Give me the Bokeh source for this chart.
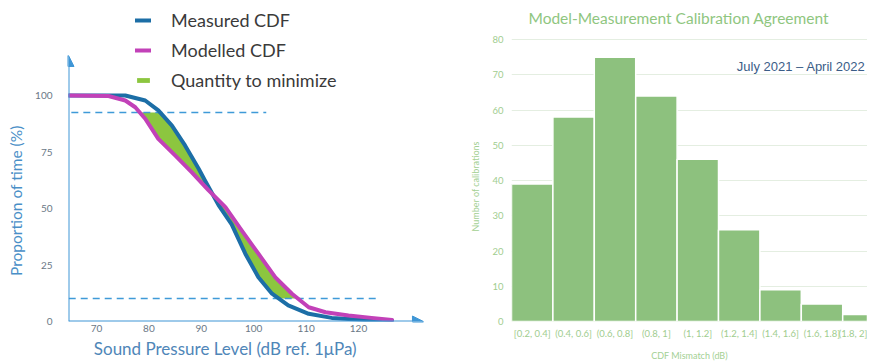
import numpy as np
from bokeh.plotting import figure
from bokeh.models import (Range1d, FixedTicker, Arrow, NormalHead, Label, Legend, LegendItem)
from bokeh.layouts import row
from bokeh.embed import file_html
from bokeh.resources import INLINE

# ---------------- Left panel: CDF diagram ----------------
spl_measured = [64.7, 75.5, 79.3, 81.8, 84.4, 86.9, 89.5, 90.7, 92.0, 93.3, 95.8, 98.4,
                100.9, 103.5, 106.6, 110.5, 114.9, 121.3, 126.4]
cdf_measured = [100, 100, 97.8, 93.4, 86.7, 77.9, 67.6, 62.4, 57.0, 51.5, 43.0, 30.0,
                19.6, 12.3, 7.1, 3.4, 1.6, 0.7, 0.4]
spl_modelled = [64.7, 72.3, 75.5, 77.4, 79.3, 81.8, 85.0, 88.2, 91.4, 94.6, 97.7, 100.9,
                104.1, 107.3, 110.5, 113.7, 118.1, 122.5, 126.4]
cdf_modelled = [100, 99.8, 97.8, 94.8, 89.7, 80.8, 73.5, 66.0, 58.0, 50.6, 40.3, 30.0,
                19.6, 12.3, 6.3, 4.1, 2.7, 1.6, 0.7]
upper_level = 92.5
lower_level = 10.2
upper_line_x = [65.2, 102.4]
lower_line_x = [64.7, 123.4]
spl_ticks = [70, 80, 90, 100, 110, 120]
pct_ticks = [0, 25, 50, 75, 100]
axis_x_end = 132.4
axis_y_end = 117.7

# ---------------- Right panel: histogram ----------------
bins = ["[0.2, 0.4]", "(0.4, 0.6]", "(0.6, 0.8]", "(0.8, 1]", "(1, 1.2]",
        "(1.2, 1.4]", "(1.4, 1.6]", "(1.6, 1.8]", "(1.8, 2]"]
counts = [39, 58, 75, 64, 46, 26, 9, 5, 2]
count_ticks = [0, 10, 20, 30, 40, 50, 60, 70, 80]

BLUE = "#1c6ea6"
MAGENTA = "#c241b8"
GREEN_FILL = "#8cc63f"
AXIS_BLUE = "#3f96d6"
NB = "\u00a0"

FH = 321          # frame height in px
LEFT_PX_PER_PCT = 2.26
RIGHT_PX_PER_COUNT = 3.525
LEFT_PX_PER_DB = 5.24
RIGHT_PX_PER_BIN = 41.4

# Left figure
x0 = 64.66
p = figure(frame_width=370, frame_height=FH, output_backend="svg", toolbar_location=None,
           title=None,
           x_range=Range1d(x0, x0 + 370 / LEFT_PX_PER_DB),
           y_range=Range1d(0, FH / LEFT_PX_PER_PCT),
           min_border_left=68, min_border_right=0, min_border_top=0, min_border_bottom=0)
p.outline_line_color = None
p.grid.visible = False

grid = np.linspace(min(spl_measured), max(spl_measured), 800)
b = np.interp(grid, spl_measured, cdf_measured)
m = np.interp(grid, spl_modelled, cdf_modelled)
lo = np.clip(np.minimum(b, m), lower_level, upper_level)
hi = np.clip(np.maximum(b, m), lower_level, upper_level)
r_fill = p.varea(x=grid, y1=lo, y2=hi, fill_color=GREEN_FILL)

p.line(upper_line_x, [upper_level, upper_level], line_color="#3f9ad8", line_width=1.6, line_dash="7 5")
p.line(lower_line_x, [lower_level, lower_level], line_color="#3f9ad8", line_width=1.6, line_dash="7 5")

r_meas = p.line(spl_measured, cdf_measured, line_color=BLUE, line_width=4, line_join="round", line_cap="round")
r_mod = p.line(spl_modelled, cdf_modelled, line_color=MAGENTA, line_width=4, line_join="round", line_cap="round")

p.add_layout(Arrow(end=NormalHead(size=11, fill_color=AXIS_BLUE, line_color=AXIS_BLUE),
                   x_start=x0, y_start=0, x_end=x0, y_end=axis_y_end,
                   line_color=AXIS_BLUE, line_width=2))
p.add_layout(Arrow(end=NormalHead(size=11, fill_color=AXIS_BLUE, line_color=AXIS_BLUE),
                   x_start=x0, y_start=0, x_end=axis_x_end, y_end=0,
                   line_color=AXIS_BLUE, line_width=2))

for ax in (p.xaxis[0], p.yaxis[0]):
    ax.axis_line_color = None
    ax.major_tick_line_color = None
    ax.minor_tick_line_color = None
    ax.major_tick_out = 0
    ax.major_tick_in = 0
    ax.minor_tick_out = 0
    ax.minor_tick_in = 0
    ax.major_label_text_color = "#6b7886"
    ax.major_label_text_font = "Lato"
    ax.major_label_text_font_size = "10px"
    ax.axis_label_text_font = "Lato"
    ax.axis_label_text_font_style = "normal"
p.xaxis.axis_label_text_font_size = "17px"
p.yaxis.axis_label_text_font_size = "15.5px"
p.xaxis.ticker = FixedTicker(ticks=spl_ticks)
p.yaxis.ticker = FixedTicker(ticks=pct_ticks)
p.xaxis.major_label_standoff = 3
p.yaxis.major_label_standoff = 16
p.xaxis.axis_label = "Sound Pressure Level (dB ref. 1μPa)" + NB * 13
p.yaxis.axis_label = "Proportion of time (%)" + NB * 20
p.xaxis.axis_label_text_color = "#4f86b8"
p.yaxis.axis_label_text_color = "#4a8fc7"
p.xaxis.axis_label_standoff = 3
p.yaxis.axis_label_standoff = 7

legend = Legend(items=[LegendItem(label="Measured CDF", renderers=[r_meas]),
                       LegendItem(label="Modelled CDF", renderers=[r_mod]),
                       LegendItem(label="Quantity to minimize", renderers=[r_fill])],
                location=(67, 230), orientation="vertical")
legend.border_line_color = None
legend.background_fill_alpha = 0
legend.padding = 0
legend.margin = 0
legend.spacing = 8
legend.glyph_width = 16
legend.glyph_height = 6
legend.label_standoff = 20
legend.label_height = 20
legend.label_text_font = "Lato"
legend.label_text_font_size = "18px"
legend.label_text_color = "#3a3a3a"
p.add_layout(legend)

# Right figure
idx = list(range(len(bins)))
q = figure(frame_width=356, frame_height=FH, output_backend="svg", toolbar_location=None,
           title=None,
           x_range=Range1d(-0.5, -0.5 + 356 / RIGHT_PX_PER_BIN),
           y_range=Range1d(0, FH / RIGHT_PX_PER_COUNT),
           min_border_left=73, min_border_right=0, min_border_top=0, min_border_bottom=0)
q.outline_line_color = None
q.vbar(x=idx, top=counts, width=1, fill_color="#8dc17e", line_color="white", line_width=1.5)
q.xgrid.visible = False
q.ygrid.grid_line_color = "#e4eee1"
q.ygrid.grid_line_width = 1
q.ygrid.ticker = FixedTicker(ticks=count_ticks)
q.yaxis.ticker = FixedTicker(ticks=count_ticks)
q.xaxis.ticker = FixedTicker(ticks=idx)
q.xaxis.major_label_overrides = {i: lab for i, lab in enumerate(bins)}
for ax in (q.xaxis[0], q.yaxis[0]):
    ax.axis_line_color = None
    ax.major_tick_line_color = None
    ax.minor_tick_line_color = None
    ax.major_tick_out = 0
    ax.major_tick_in = 0
    ax.minor_tick_out = 0
    ax.minor_tick_in = 0
    ax.major_label_text_color = "#9fcd8f"
    ax.major_label_text_font = "Lato"
    ax.major_label_text_font_size = "9.5px"
    ax.axis_label_text_font = "Lato"
    ax.axis_label_text_font_style = "normal"
    ax.axis_label_text_font_size = "9px"
    ax.axis_label_text_color = "#a3d093"
q.xaxis.major_label_standoff = 6
q.yaxis.major_label_standoff = 8
q.xaxis.axis_label = "CDF Mismatch (dB)"
q.yaxis.axis_label = "Number of calibrations" + NB * 22
q.xaxis.axis_label_standoff = 8
q.yaxis.axis_label_standoff = 8

title_y = 80 + 22 / RIGHT_PX_PER_COUNT
q.add_layout(Label(x=-0.09, y=title_y, text="Model-Measurement  Calibration Agreement",
                   text_align="left", text_baseline="middle", text_font="Lato",
                   text_font_size="15.5px", text_color="#8fc67f"))
q.add_layout(Label(x=8.05, y=72.4, text="July 2021 – April 2022", text_align="right",
                   text_baseline="middle", text_font="Liberation Sans", text_font_size="13px",
                   text_color="#3b5d87"))

layout = row(p, q, spacing=0)
open("out.html", "w").write(file_html(layout, INLINE))
